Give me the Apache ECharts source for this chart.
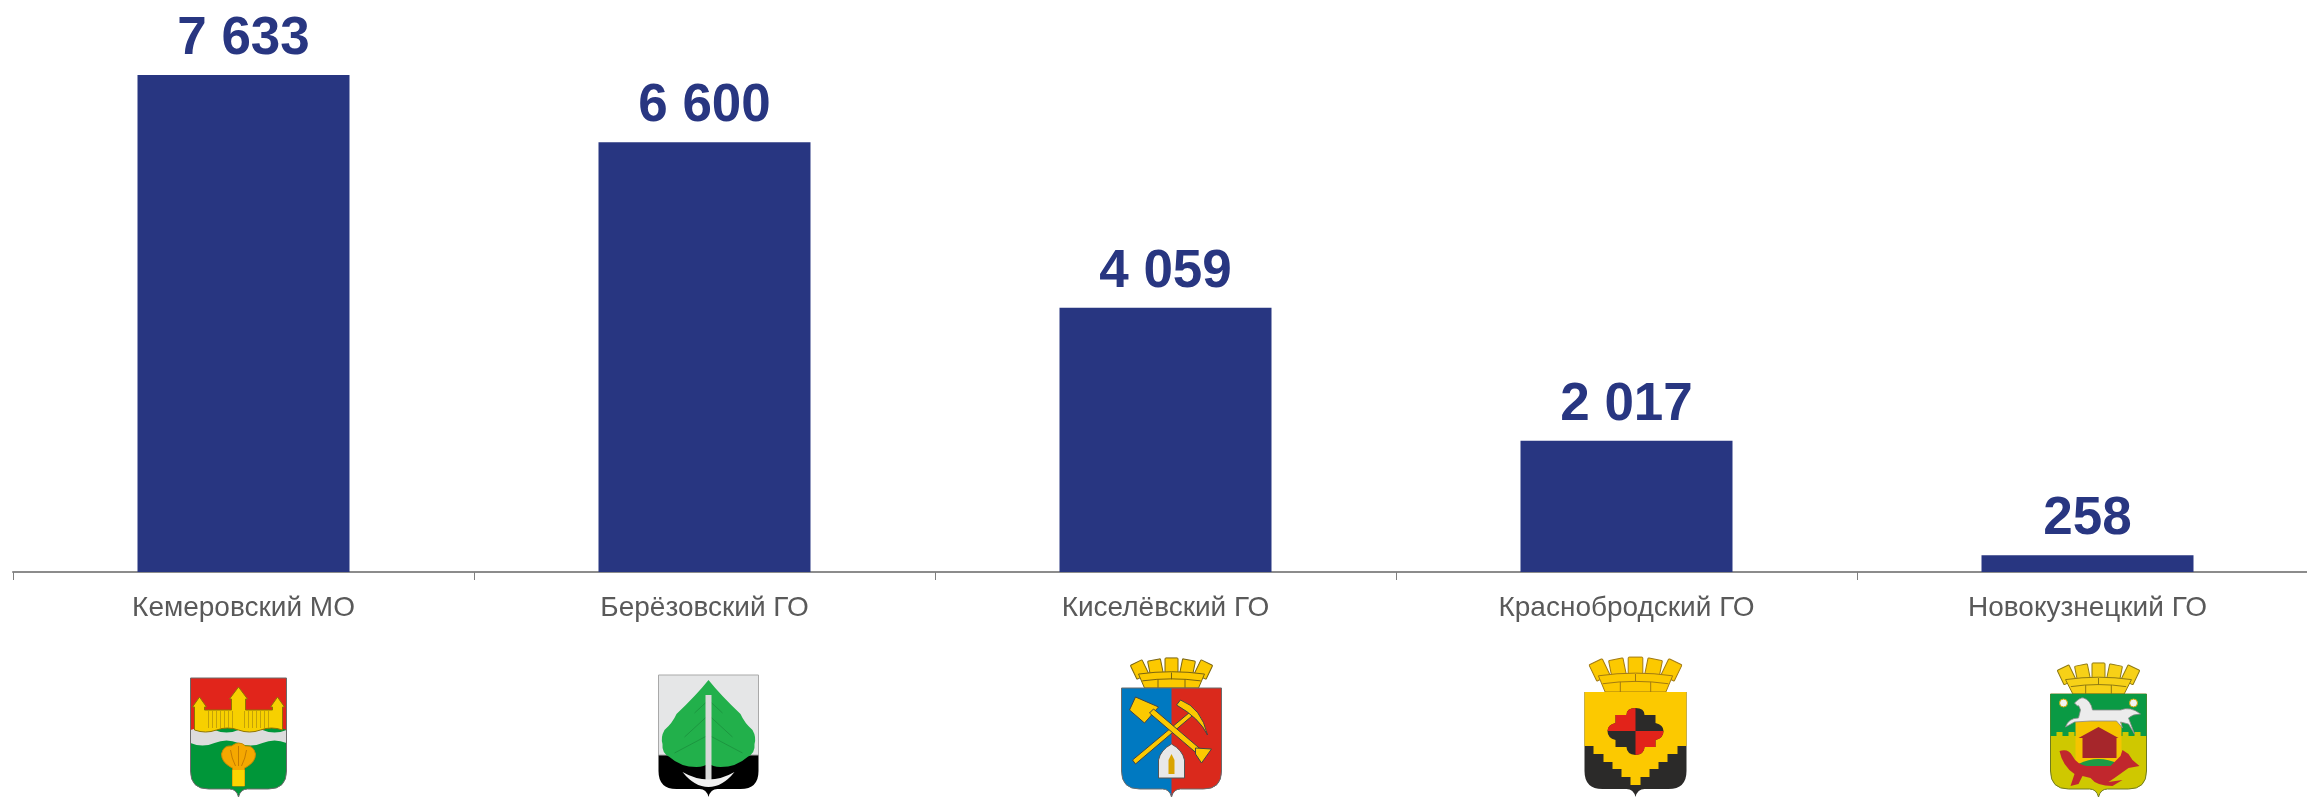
<!DOCTYPE html>
<html>
<head>
<meta charset="utf-8">
<style>
  html, body { margin: 0; padding: 0; background: #fff; overflow: hidden; }
  #chart { width: 2307px; height: 797px; }
</style>
<script src="https://cdn.jsdelivr.net/npm/echarts@6/dist/echarts.min.js"></script>
</head>
<body>
<div id="chart"></div>
<script>
const categories = ['Кемеровский МО', 'Берёзовский ГО', 'Киселёвский ГО', 'Краснобродский ГО', 'Новокузнецкий ГО']
const values = [7633, 6600, 4059, 2017, 258]

const barColor = '#283681'
const GOLD = '#fcc900'
const DARK = '#2b2a29'

// щит: верхний край в y=0, нижний шип в y=h
function shieldPath(w, h) {
  const x = w / 2, b = h - 8
  return `M${-x} 0H${x}V${b - 18}Q${x} ${b} ${x - 18} ${b}H9Q2 ${b} 0 ${h}Q-2 ${b} -9 ${b}H${-x + 18}Q${-x} ${b} ${-x} ${b - 18}Z`
}
const p = (d, fill, extra) => ({ type: 'path', shape: { pathData: d }, style: Object.assign({ fill: fill }, extra) })
const outline = (w, h, c) => p(shieldPath(w, h), 'none', { stroke: c || '#6b6b6b', lineWidth: 1 })
const ln = (c, w) => ({ stroke: c, lineWidth: w || 1 })

// городская корона над щитом: пять зубцов веером и кладка
function crown(w, h, fill, line, flare) {
  const s = w / 80, parts = [], st = ln(line)
  const teeth = [[-32, 0.45], [-16, 0.2], [0, 0], [16, -0.2], [32, -0.45]]
  teeth.forEach(t => {
    const tw = 13 * s, th = h * 0.5
    parts.push({
      type: 'rect', x: t[0] * s, y: -h * 0.72 + Math.abs(t[0]) * 0.12, rotation: t[1],
      shape: { x: -tw / 2, y: -th / 2, width: tw, height: th, r: 1 },
      style: Object.assign({ fill: fill }, st)
    })
  })
  const bx = 27 * s * flare, tx = 33 * s, ty = -h * 0.45
  parts.push(p(`M${-bx} 0L${-tx} ${ty}Q0 ${-h * 0.6} ${tx} ${ty}L${bx} 0Z`, fill, st))
  parts.push(p(`M${-bx * 1.08} ${-h * 0.23}Q0 ${-h * 0.36} ${bx * 1.08} ${-h * 0.23}M${-bx * 0.5} ${-h * 0.28}V0M${bx * 0.5} ${-h * 0.28}V0M0 ${-h * 0.5}V${-h * 0.28}`, 'none', st))
  return parts
}

// гербы рисуются в локальных координатах: x от центра, y от верха щита
const emblems = [
  { dx: -5, top: 678, children: () => [
    p(shieldPath(96, 119), '#009639'),
    p('M-48 0H48V52Q36 46 24 52T0 52T-24 52T-48 52Z', '#e1251b'),
    p('M-48 52Q-36 47 -24 52T0 52T24 52T48 52V65Q36 60 24 65T0 65T-24 65T-48 65Z', '#dcdcdc'),
    p('M-44 52V29H-46L-39 19L-32 29H-34V32H-7V21H-9L0 9L9 21H7V32H34V29H32L39 19L46 29H44V52Q33 48 22 52T0 52T-22 52T-44 52Z', '#f7d000', ln('#8f7400')),
    p('M-30 33V50M-26 33V50M-22 33V50M-18 33V50M-14 33V50M-10 33V50M-6 33V50M6 33V50M10 33V50M14 33V50M18 33V50M22 33V50M26 33V50M30 33V50', 'none', ln('#b8950a', 0.8)),
    p('M-6 108V90L-8 89Q-17 84 -17 76Q-15 67 -7 68Q-3 65 0 65Q4 65 7 68Q15 67 17 76Q17 84 8 89L6 90V108Z', '#f5a800', ln('#c98a00')),
    p('M-6 92H6V108H-6Z', '#fad400'),
    p('M-8 72Q-7 80 -3 88M0 68V88M8 72Q7 80 3 88', 'none', ln('#c57c00')),
    outline(96, 119)
  ] },
  { dx: 4, top: 675, children: () => [
    p(shieldPath(100, 122), '#000000'),
    p('M-50 0H50V80H-50Z', '#e5e6e7', ln('#a9a9a9')),
    p('M0 5Q12 20 32 39Q36 48 44 55Q48 62 46 69Q47 78 39 82Q28 92 12 92Q4 92 0 88Q-4 92 -12 92Q-28 92 -39 82Q-47 78 -46 69Q-48 62 -44 55Q-36 48 -32 39Q-12 20 0 5Z', '#22b04b'),
    p('M0 40L-24 62M0 40L24 62M0 60L-34 78M0 60L34 78M0 25L-14 38M0 25L14 38', 'none', ln('#1a8f3c', 0.8)),
    p('M-3 20H3V105H-3Z', '#d9d9d9'),
    p('M-26 97Q0 112 26 97Q14 112 0 112Q-14 112 -26 97Z', '#f1f1f1')
  ] },
  { dx: 6, top: 688, crown: [80, 31, GOLD, '#7a6410', 1], children: () => [
    p(shieldPath(100, 109), '#0079c1'),
    p('M0 0H50V83Q50 101 32 101H9Q2 101 0 109Z', '#da291c'),
    p('M-39 72L-36 76L24 25L21 22Z', GOLD, ln('#444')),
    p('M9 12Q30 20 36 47Q28 30 5 17Z', GOLD, ln('#444')),
    p('M-36 9L-13 19L-27 35L-42 22Z', GOLD, ln('#444')),
    p('M-22 25L-18 21L30 62L26 66Z', GOLD, ln('#444')),
    p('M24 60L40 61L30 75L24 66Z', GOLD, ln('#444')),
    p('M-13 90V72Q-11 62 0 56Q11 62 13 72V90Z', '#e8e8e8', ln('#555')),
    p('M-3 86V72L0 66L3 72V86Z', '#d9a400'),
    outline(100, 109)
  ] },
  { dx: 9, top: 692, crown: [90, 36, GOLD, '#a27a12', 1], children: () => [
    p(shieldPath(102, 105), DARK),
    p('M-51 0H51V54H42V62H32V70H23V77H14V85H5V93H-5V85H-14V77H-23V70H-32V62H-42V54H-51Z', GOLD),
    p('M0 16Q9 16 9 23H20V31Q28 33 28 39Q28 46 20 48V55H9Q9 62 0 63Q-9 62 -9 55H-20V48Q-28 46 -28 39Q-28 33 -20 31V23H-9Q-9 16 0 16Z', DARK),
    p('M0 16Q-9 16 -9 23H-20V31Q-28 33 -28 39H0Z', '#e2231a'),
    p('M0 39H28Q28 46 20 48V55H9Q9 62 0 63Z', '#e2231a')
  ] },
  { dx: 11, top: 694, crown: [80, 32, '#f7d117', '#8f7a12', 0.95], children: () => [
    p(shieldPath(96, 103), '#cfc800', ln('#6f7a20')),
    p('M-48 0H48V42H42V38H36V42H30V38H24V42H-24V38H-30V42H-36V38H-42V42H-48Z', '#0a9a44'),
    p('M-23 27H23V69H-23Z', '#f5c400'),
    p('M-33 33Q-30 24 -20 24L-18 16Q-20 10 -21 12L-24 9Q-18 3 -15 4Q-8 6 -6 16L22 16Q32 12 42 20Q34 20 30 24L36 40L30 30L22 28L24 34L18 27L-8 27L-24 28Z', '#ececec', ln('#8a8a8a', 0.8)),
    p('M-16 64V44H-20L0 33L20 44H18V64Z', '#a6262b'),
    p('M-20 70Q0 60 20 70V74H-20Z', '#1c9a45'),
    p('M-39 57Q-30 54 -26 62Q-22 70 -12 72H12L22 62L24 56L30 60L34 66L41 72L30 74L16 84L10 88L24 86L14 92Q-2 92 -8 84L-16 82L-20 90L-28 92L-24 80Q-36 72 -39 57Z', '#c1272d'),
    { type: 'circle', shape: { cx: -35, cy: 9, r: 4 }, style: { fill: '#f3f3f3', stroke: '#c9a500', lineWidth: 1 } },
    { type: 'circle', shape: { cx: 35, cy: 9, r: 4 }, style: { fill: '#f3f3f3', stroke: '#c9a500', lineWidth: 1 } }
  ] }
]

const chart = echarts.init(document.getElementById('chart'))

chart.setOption({
  animation: false,
  grid: { left: 13, top: 51, width: 2305, height: 521, containLabel: false, outerBoundsMode: 'none' },
  xAxis: {
    type: 'category',
    data: categories,
    axisLine: { lineStyle: { color: '#8c8c8c', width: 2 } },
    axisTick: { show: true, length: 8, lineStyle: { color: '#7f7f7f', width: 1 } },
    axisLabel: { color: '#595959', fontSize: 28, fontFamily: 'Liberation Sans', margin: 22, interval: 0 }
  },
  yAxis: { type: 'value', min: 0, max: 8000, show: false },
  series: [{
    type: 'bar',
    data: values,
    barWidth: 212,
    itemStyle: { color: barColor },
    label: {
      show: true,
      position: 'top',
      distance: 9,
      color: barColor,
      fontSize: 53,
      fontWeight: 'bold',
      fontFamily: 'Liberation Sans',
      formatter: arg => String(arg.value).replace(/\B(?=(\d{3})+$)/g, ' ')
    }
  }, {
    // гербы под подписями, привязаны к центру категории
    type: 'custom',
    silent: true,
    clip: false,
    data: categories.map((c, i) => [i, 0]),
    encode: { x: 0, y: 1 },
    renderItem: (params, api) => {
      const e = emblems[params.dataIndex]
      const cx = api.coord([api.value(0), 0])[0] + e.dx
      let kids = e.children()
      if (e.crown) kids = crown(e.crown[0], e.crown[1], e.crown[2], e.crown[3], e.crown[4]).concat(kids)
      return { type: 'group', x: cx, y: e.top, children: kids }
    }
  }]
})
</script>
</body>
</html>
